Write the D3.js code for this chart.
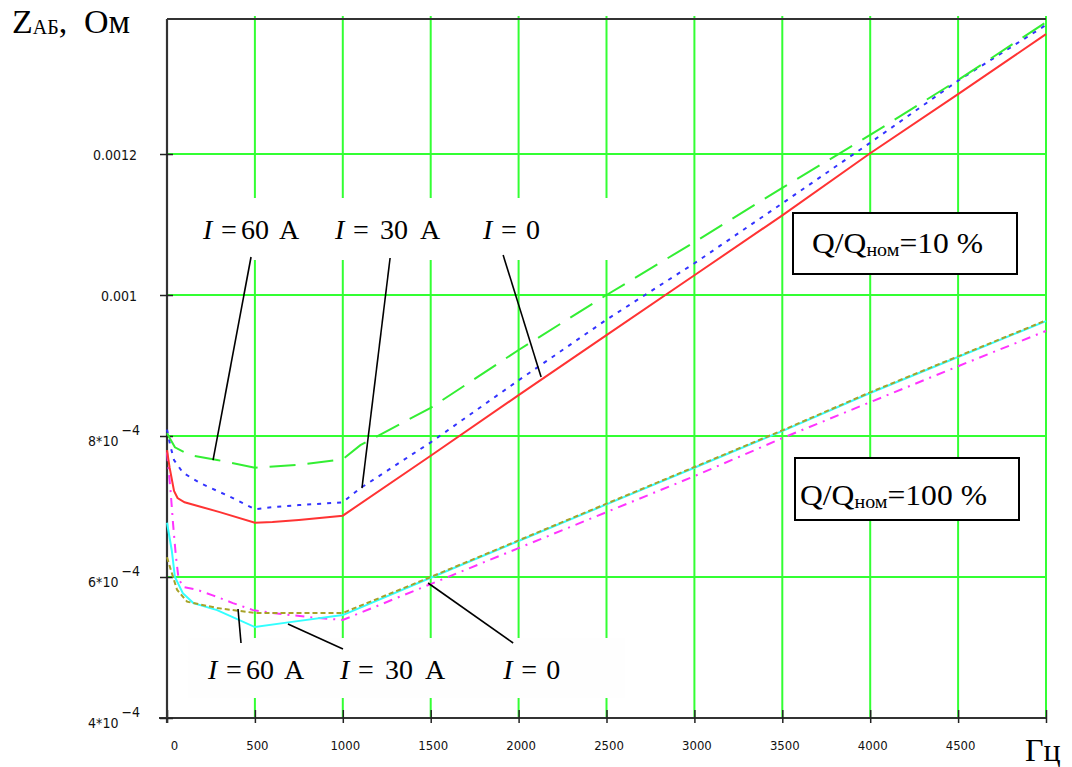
<!DOCTYPE html>
<html><head><meta charset="utf-8">
<script src="https://cdn.jsdelivr.net/npm/d3@7"></script>
<style>body{margin:0;background:#fff}svg{display:block}
.serif{font-family:"Liberation Serif","Times New Roman",Times,"DejaVu Serif",serif}
.tick text,.tk{font-family:"DejaVu Sans Condensed","DejaVu Sans",sans-serif}
</style>
</head><body><svg id="c" width="1072" height="767"></svg>
<script>
// ---------- data ----------
const xTicks = [0, 500, 1000, 1500, 2000, 2500, 3000, 3500, 4000, 4500, 5000];
const xTickLabels = ["0", "500", "1000", "1500", "2000", "2500", "3000", "3500", "4000", "4500", ""];
const yTicks = [0.0004, 0.0006, 0.0008, 0.001, 0.0012];
const yTickMain = ["4*10", "6*10", "8*10", "0.001", "0.0012"];
const yTickExp = ["\u22124", "\u22124", "\u22124", "", ""];

// Q/Qном = 10 %
const fRed10 = [0, 15, 40, 60, 100, 300, 500, 600, 750, 1000, 1500, 2000, 2500, 3000, 3500, 4000, 4500, 5000];
const zRed10 = [7.80e-4, 7.55e-4, 7.22e-4, 7.12e-4, 7.06e-4, 6.92e-4, 6.77e-4, 6.78e-4, 6.81e-4, 6.87e-4, 7.72e-4, 8.58e-4, 9.43e-4, 10.28e-4, 11.13e-4, 12.01e-4, 12.85e-4, 13.70e-4];
const fBlue10 = [0, 20, 40, 90, 190, 375, 500, 600, 750, 1000, 1100, 1500, 2000, 2500, 3000, 3500, 4000, 4500, 5000];
const zBlue10 = [8.09e-4, 7.85e-4, 7.66e-4, 7.48e-4, 7.33e-4, 7.12e-4, 6.96e-4, 6.99e-4, 7.02e-4, 7.06e-4, 7.26e-4, 7.91e-4, 8.79e-4, 9.65e-4, 10.45e-4, 11.30e-4, 12.16e-4, 13.04e-4, 13.83e-4];
const fGreen10 = [0, 45, 130, 285, 500, 750, 1000, 1100, 1500, 2000, 2500, 3000, 3500, 4000, 4500, 5000];
const zGreen10 = [8.04e-4, 7.84e-4, 7.73e-4, 7.66e-4, 7.55e-4, 7.59e-4, 7.67e-4, 7.87e-4, 8.40e-4, 9.22e-4, 10.00e-4, 10.75e-4, 11.52e-4, 12.27e-4, 13.05e-4, 13.87e-4];

// Q/Qном = 100 %
const fCyan100 = [0, 27, 45, 90, 150, 285, 500, 700, 1000, 1500, 2000, 2500, 3000, 3500, 4000, 4500, 5000];
const zCyan100 = [6.77e-4, 6.38e-4, 6.00e-4, 5.77e-4, 5.63e-4, 5.53e-4, 5.29e-4, 5.36e-4, 5.46e-4, 5.99e-4, 6.51e-4, 7.03e-4, 7.55e-4, 8.07e-4, 8.61e-4, 9.12e-4, 9.63e-4];
const fOlive100 = [0, 17, 57, 114, 285, 500, 660, 1000, 1500, 2000, 2500, 3000, 3500, 4000, 4500, 5000];
const zOlive100 = [6.28e-4, 6.14e-4, 5.82e-4, 5.65e-4, 5.56e-4, 5.49e-4, 5.49e-4, 5.49e-4, 6.00e-4, 6.52e-4, 7.04e-4, 7.56e-4, 8.08e-4, 8.62e-4, 9.13e-4, 9.64e-4];
const fMag100 = [0, 20, 35, 50, 65, 90, 170, 260, 375, 490, 600, 810, 1000, 1500, 2000, 2500, 3000, 3500, 4000, 4500, 5000];
const zMag100 = [7.77e-4, 7.23e-4, 6.74e-4, 6.31e-4, 5.99e-4, 5.86e-4, 5.82e-4, 5.74e-4, 5.63e-4, 5.53e-4, 5.49e-4, 5.43e-4, 5.39e-4, 5.90e-4, 6.41e-4, 6.92e-4, 7.43e-4, 7.97e-4, 8.48e-4, 8.99e-4, 9.49e-4];

// annotation labels (anchor in data coords: frequency, impedance)
const labelTexts = [["I", "=", "60", "A"], ["I", "=", "30", "A"], ["I", "=", "0"]];
const labelOffsets = [[0, 18, 38, 76], [0, 18, 45, 85], [0, 18, 43]];
const topLabelF = [205, 956, 1798];
const bottomLabelF = [233, 984, 1912];
const topLabelZ = 1.0794e-3;
const bottomLabelZ = 4.553e-4;
const leaders = [
  {f1: 478, z1: 1.0539e-3, f2: 262, z2: 7.659e-4},
  {f1: 1269, z1: 1.0525e-3, f2: 1109, z2: 7.262e-4},
  {f1: 1912, z1: 1.0567e-3, f2: 2128, z2: 8.837e-4},
  {f1: 404, z1: 5.546e-4, f2: 421, z2: 5.064e-4},
  {f1: 688, z1: 5.333e-4, f2: 1001, z2: 4.979e-4},
  {f1: 1485, z1: 5.915e-4, f2: 1969, z2: 5.064e-4}
];

// ---------- layout ----------
const svg = d3.select("#c");
const L = 167, R = 1046, T = 19, B = 718;
const x = d3.scaleLinear().domain([0, 5000]).range([L, R]);
const y = d3.scaleLinear().domain([0.0004, 0.0013915]).range([B, T]);
const GRID = "#33ff33";

// gridlines
const grid = svg.append("g");
grid.selectAll("line.v").data(xTicks.filter(d => d > 0)).join("line")
  .attr("x1", d => x(d)).attr("x2", d => x(d)).attr("y1", T - 3).attr("y2", B)
  .attr("stroke", GRID).attr("stroke-width", 2);
grid.selectAll("line.h").data(yTicks.filter(d => d > 0.0004)).join("line")
  .attr("x1", L).attr("x2", R).attr("y1", d => y(d)).attr("y2", d => y(d))
  .attr("stroke", GRID).attr("stroke-width", 2);

// white patches behind annotation labels
svg.append("rect").attr("x", 169).attr("y", 198).attr("width", 452).attr("height", 62).attr("fill", "#fff");
svg.append("rect").attr("x", 188).attr("y", 638).attr("width", 437).attr("height", 60).attr("fill", "#fefefe");

// legend boxes
function legendBox(bx, by, bw, bh, tx, ty, val, tl) {
  svg.append("rect").attr("x", bx).attr("y", by).attr("width", bw).attr("height", bh)
    .attr("fill", "#fff").attr("stroke", "#000").attr("stroke-width", 2);
  const t = svg.append("text").attr("class", "serif").attr("x", tx).attr("y", ty)
    .attr("font-size", 30).attr("fill", "#000")
    .attr("textLength", tl).attr("lengthAdjust", "spacingAndGlyphs");
  t.append("tspan").text("Q/Q");
  t.append("tspan").attr("font-size", 19).attr("dy", 3).text("ном");
  t.append("tspan").attr("dy", -3).text(val);
}
legendBox(793, 213, 224, 61, 812, 253, "=10 %", 171);
legendBox(795, 458, 224, 62, 800, 505, "=100 %", 187);

// axes
const xAxis = d3.axisBottom(x).tickValues(xTicks).tickSizeInner(5).tickSizeOuter(0)
  .tickFormat((d, i) => xTickLabels[i]);
const gx = svg.append("g").attr("transform", `translate(0,${B})`).call(xAxis);
gx.attr("font-family", null);
gx.select(".domain").attr("stroke", "#333").attr("stroke-width", 2.2).attr("d", `M${L - 8},0H${R}`);
gx.selectAll(".tick line").attr("stroke", "#222").attr("stroke-width", 1.5).attr("y1", -8).attr("y2", 5);
gx.selectAll(".tick text").attr("font-size", 13).attr("fill", "#111")
  .attr("y", 32).attr("dy", 0).attr("dx", d => d === 0 ? 7 : 2);

const yAxis = d3.axisLeft(y).tickValues(yTicks).tickSizeInner(7).tickSizeOuter(0).tickFormat("");
const gy = svg.append("g").attr("transform", `translate(${L},0)`).call(yAxis);
gy.attr("font-family", null);
gy.select(".domain").attr("stroke", "#333").attr("stroke-width", 2.2).attr("d", `M0,${T}V${B + 5}`);
gy.selectAll(".tick line").attr("stroke", "#222").attr("stroke-width", 1.5).attr("x1", -7).attr("x2", 6);
gy.selectAll(".tick text").remove();
gy.selectAll(".tick").each(function (d, i) {
  const t = d3.select(this).append("text").attr("class", "tk").attr("text-anchor", "end")
    .attr("font-size", 14).attr("fill", "#111")
    .attr("x", -30).attr("y", yTickExp[i] ? 9 : 5);
  if (yTickExp[i]) {
    t.attr("x", -27);
    t.append("tspan").text(yTickMain[i]);
    t.append("tspan").attr("dy", -11).attr("dx", 3).text(yTickExp[i]);
  } else {
    t.text(yTickMain[i]);
  }
});
// top frame line
svg.append("line").attr("x1", L).attr("x2", R).attr("y1", T).attr("y2", T)
  .attr("stroke", "#333").attr("stroke-width", 2);

// curves
const line = d3.line().x(d => x(d[0])).y(d => y(d[1]));
const zip = (a, b) => a.map((v, i) => [v, b[i]]);
const series = [
  {f: fMag100, z: zMag100, c: "#ff33ff", w: 2, dash: "9,6,2,6"},
  {f: fCyan100, z: zCyan100, c: "#33ffff", w: 2, dash: null},
  {f: fOlive100, z: zOlive100, c: "#a8a228", w: 2, dash: "5,3"},
  {f: fRed10, z: zRed10, c: "#ff3333", w: 2, dash: null},
  {f: fBlue10, z: zBlue10, c: "#3333ff", w: 2, dash: "4,6"},
  {f: fGreen10, z: zGreen10, c: "#33ee33", w: 2, dash: "26,12"}
];
svg.append("g").selectAll("path").data(series).join("path")
  .attr("d", s => line(zip(s.f, s.z)))
  .attr("fill", "none").attr("stroke", s => s.c).attr("stroke-width", s => s.w)
  .attr("stroke-dasharray", s => s.dash);

// leader lines
svg.append("g").selectAll("line").data(leaders).join("line")
  .attr("x1", d => x(d.f1)).attr("y1", d => y(d.z1))
  .attr("x2", d => x(d.f2)).attr("y2", d => y(d.z2))
  .attr("stroke", "#000").attr("stroke-width", 1.6);

// annotation labels
function eqLabels(fs, z) {
  fs.forEach((f, i) => {
    const x0 = x(f), y0 = y(z);
    const t = svg.append("text").attr("class", "serif").attr("y", y0)
      .attr("font-size", 28).attr("fill", "#000");
    labelTexts[i].forEach((s, k) => {
      t.append("tspan").attr("x", x0 + labelOffsets[i][k])
        .attr("font-style", k === 0 ? "italic" : null).text(s);
    });
  });
}
eqLabels(topLabelF, topLabelZ);
eqLabels(bottomLabelF, bottomLabelZ);

// axis titles
const zt = svg.append("text").attr("class", "serif").attr("x", 12).attr("y", 33)
  .attr("font-size", 34).attr("fill", "#000");
zt.append("tspan").text("Z");
zt.append("tspan").attr("font-size", 20).attr("dy", 1).text("АБ");
zt.append("tspan").attr("dy", -1).text(",");
zt.append("tspan").attr("x", 84).text("Ом");

svg.append("text").attr("class", "serif").attr("x", 1025).attr("y", 761)
  .attr("font-size", 32).attr("fill", "#000").text("Гц");
</script>
</body></html>
